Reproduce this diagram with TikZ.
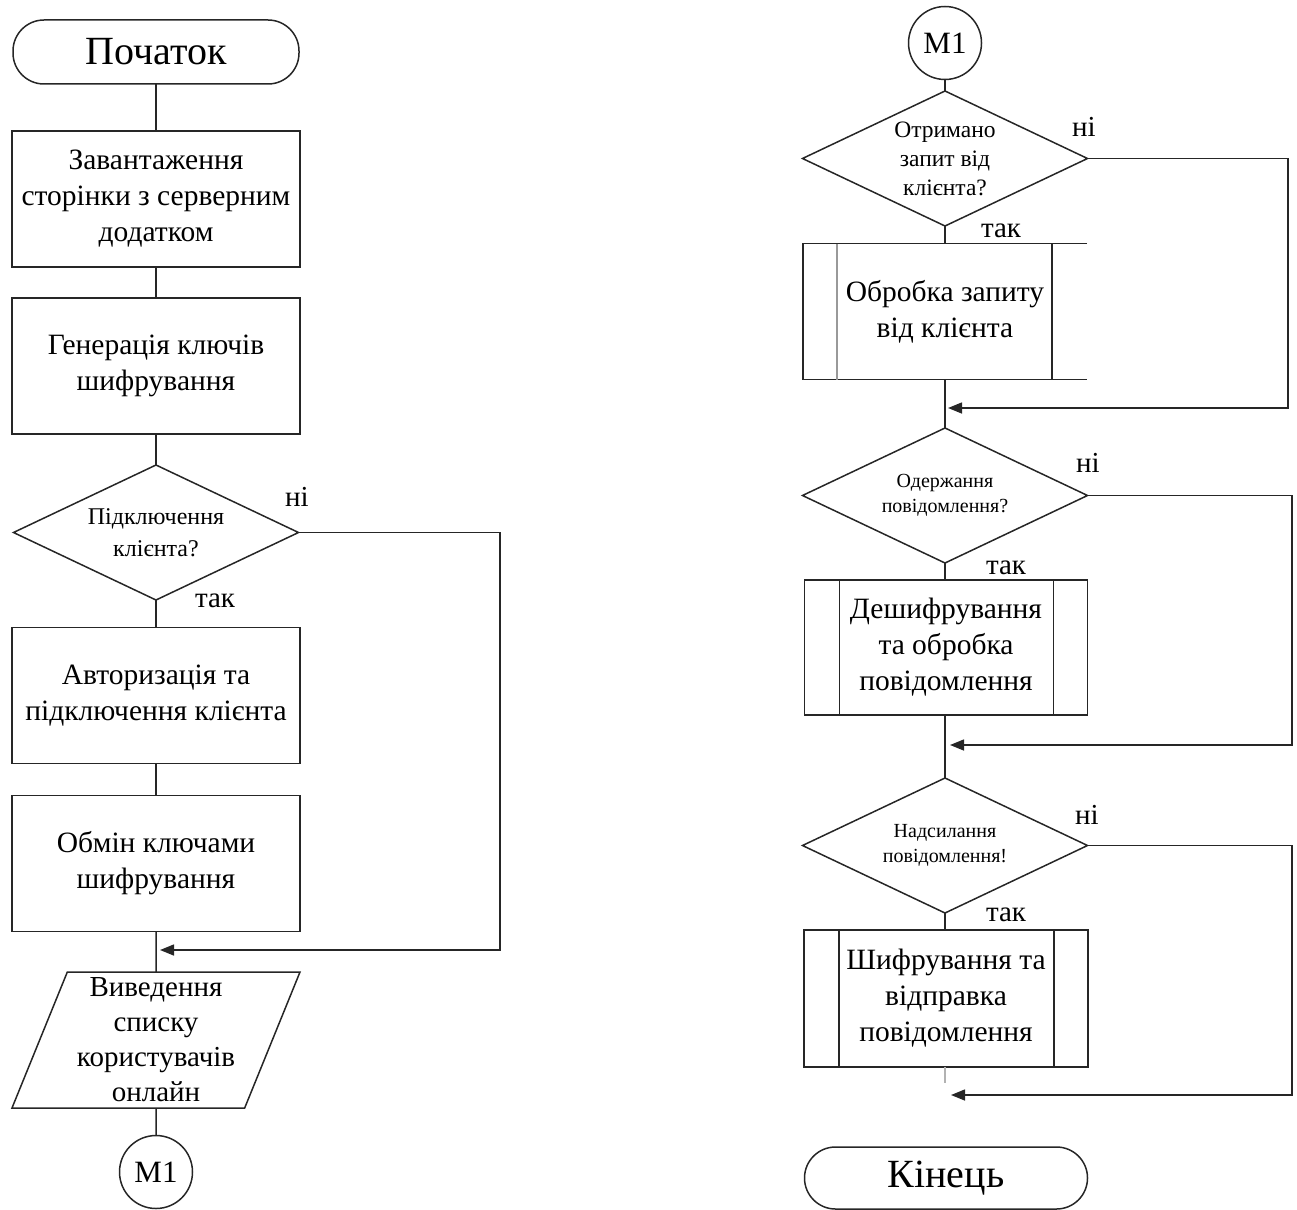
\documentclass[tikz,border=0pt]{standalone}
\usepackage{fontspec}
\setmainfont{Liberation Serif}
\usetikzlibrary{shapes.geometric,arrows.meta}
\tikzset{
  every node/.style={inner sep=0pt,outer sep=0pt,align=center,text=black},
  ln/.style={line width=1.5pt,draw=black!85},
  term/.style={ln,rectangle,rounded corners=31pt,minimum width=286pt,minimum height=64pt,font=\fontsize{40}{44}\selectfont},
  procbox/.style={ln,rectangle,minimum width=288pt,minimum height=136pt,font=\fontsize{29.5}{36}\selectfont},
  ppbox/.style={rectangle,minimum width=284pt,minimum height=136pt,font=\fontsize{29.5}{36}\selectfont},
  decbox/.style={ln,diamond,shape aspect=2.1,minimum width=285pt,minimum height=135pt},
  iobox/.style={ln,trapezium,trapezium left angle=66,trapezium right angle=114,trapezium stretches body,minimum width=288pt,minimum height=136pt,font=\fontsize{29}{35}\selectfont},
  onpage/.style={ln,circle,minimum size=73pt,font=\fontsize{31}{33}\selectfont},
  lbl/.style={font=\fontsize{29}{31}\selectfont},
  conn/.style={line width=1.5pt,draw=black!85},
  arr/.style={conn,-{Triangle[length=14pt,width=11pt]}},
}
\begin{document}
\begin{tikzpicture}[x=1pt,y=-1pt]
\useasboundingbox (0,0) rectangle (1297,1209);
% ---------------- left column ----------------
\node[term] (start) at (156,52) {Початок};
\node[procbox] (b1) at (156,199) {Завантаження\\сторінки з серверним\\додатком};
\node[procbox] (b2) at (156,366) {Генерація ключів\\шифрування};
\node[decbox,font=\fontsize{24}{32}\selectfont] (d1) at (156,532.5) {Підключення\\клієнта?};
\node[procbox] (b3) at (156,695.5) {Авторизація та\\підключення клієнта};
\node[procbox] (b4) at (156,863.5) {Обмін ключами\\шифрування};
\node[iobox] (io) at (156,1040) {Виведення\\списку\\користувачів\\онлайн};
\node[onpage] (m1a) at (156,1172) {M1};
\node[lbl] (n1) at (297,497) {ні};
\node[lbl] (t1) at (215,601) {так};
\coordinate (r1) at (500,950);
\coordinate (j1) at (160,950);
\draw[conn] (start) -- (b1);
\draw[conn] (b1) -- (b2);
\draw[conn] (b2) -- (d1);
\draw[conn] (d1) -- (b3);
\draw[conn] (b3) -- (b4);
\draw[conn] (b4) -- (io);
\draw[conn] (io) -- (m1a);
\draw[arr] (d1.east) -| (r1) -- (j1);
% ---------------- right column ----------------
\node[onpage] (m1b) at (945,43) {M1};
\node[decbox,font=\fontsize{23.5}{29}\selectfont] (rd1) at (945,158.5) {Отримано\\запит від\\клієнта?};
\node[ppbox] (rp1) at (945,311.5) {Обробка запиту\\від клієнта};
\node[decbox,font=\fontsize{20}{25}\selectfont] (rd2) at (945,495.5) {Одержання\\повідомлення?};
\node[ppbox,minimum width=283pt,minimum height=135pt] (rp2) at (946,647.5) {Дешифрування\\та обробка\\повідомлення};
\node[decbox,font=\fontsize{20}{25}\selectfont] (rd3) at (945,845.5) {Надсилання\\повідомлення!};
\node[ppbox,minimum width=284pt,minimum height=137pt] (rp3) at (946,998.5) {Шифрування та\\відправка\\повідомлення};
\node[term,minimum width=283pt,minimum height=62pt] (fin) at (946,1178) {Кінець};
\node[lbl] (n2) at (1084,127) {ні};
\node[lbl] (t2) at (1001,231) {так};
\node[lbl] (n3) at (1088,463) {ні};
\node[lbl] (t3) at (1006,568) {так};
\node[lbl] (n4) at (1087,815) {ні};
\node[lbl] (t4) at (1006,915) {так};
% predefined-process outlines
\draw[conn] (rp1.north east) -- (rp1.north west) -- (rp1.south west) -- (rp1.south east);
\draw[conn,draw=black!40] ([xshift=34pt]rp1.north west) -- ([xshift=34pt]rp1.south west);
\draw[conn] ([xshift=-35pt]rp1.north east) -- ([xshift=-35pt]rp1.south east);
\draw[conn] (rp2.north west) rectangle (rp2.south east);
\draw[conn] ([xshift=35pt]rp2.north west) -- ([xshift=35pt]rp2.south west);
\draw[conn] ([xshift=-34pt]rp2.north east) -- ([xshift=-34pt]rp2.south east);
\draw[conn] (rp3.north west) rectangle (rp3.south east);
\draw[conn] ([xshift=35pt]rp3.north west) -- ([xshift=35pt]rp3.south west);
\draw[conn] ([xshift=-34pt]rp3.north east) -- ([xshift=-34pt]rp3.south east);
% connectors
\coordinate (r2) at (1288,408);
\coordinate (j2) at (948,408);
\coordinate (r3) at (1292,745);
\coordinate (j3) at (950,745);
\coordinate (r4) at (1292,1095);
\coordinate (j4) at (951,1095);
\coordinate (e3) at (945,1083);
\draw[conn] (m1b) -- (rd1);
\draw[conn] (rd1) -- (rp1);
\draw[conn] (rp1) -- (rd2);
\draw[conn] (rd2) -- (rd2 |- rp2.north);
\draw[conn] (rd2 |- rp2.south) -- (rd3);
\draw[conn] (rd3) -- (rd3 |- rp3.north);
\draw[conn,draw=black!30] (rd3 |- rp3.south) -- (e3);
\draw[arr] (rd1.east) -| (r2) -- (j2);
\draw[arr] (rd2.east) -| (r3) -- (j3);
\draw[arr] (rd3.east) -| (r4) -- (j4);
\end{tikzpicture}
\end{document}
